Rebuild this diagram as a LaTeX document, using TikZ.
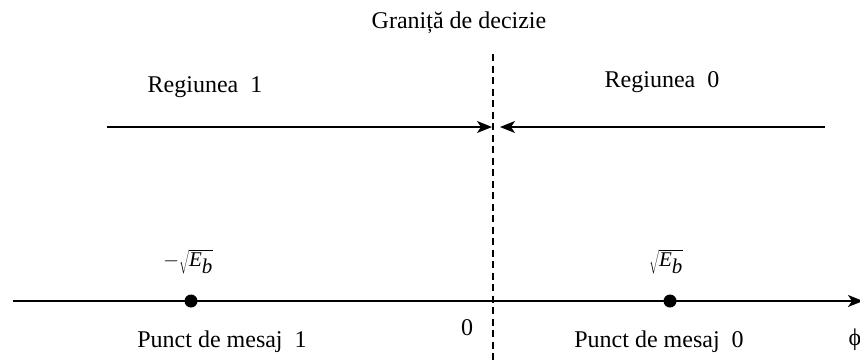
\documentclass[tikz,border=0pt]{standalone}
\usepackage{fontspec}
\setmainfont{Liberation Serif}
\usetikzlibrary{arrows.meta}
\begin{document}
\begin{tikzpicture}[x=1pt,y=-1pt,
  lbl/.style={font=\fontsize{24}{28}\selectfont, inner sep=0pt, anchor=base},
  mlbl/.style={font=\fontsize{21}{25}\selectfont, inner sep=0pt, anchor=base},
  ln/.style={line width=1.5pt, -{Stealth[length=15pt,width=12pt,inset=4pt]}},
  dotn/.style={circle, fill=black, minimum size=13pt, inner sep=0pt}]
\useasboundingbox (0,0) rectangle (860,360);
\node[lbl] (title) at (459,28) {Graniță de decizie};
\coordinate (btop) at (493,54);
\coordinate (bbot) at (493,360);
\draw[line width=1.3pt, dash pattern=on 7pt off 4.5pt] (btop) -- (bbot);
\node[lbl] (r1) at (205,92) {Regiunea\ \ 1};
\node[lbl] (r0) at (662,87) {Regiunea\ \ 0};
\coordinate (a1s) at (107,127);
\coordinate (a1e) at (492,127);
\coordinate (a0s) at (825,127);
\coordinate (a0e) at (500,127);
\draw[ln] (a1s) -- (a1e);
\draw[ln] (a0s) -- (a0e);
\coordinate (axs) at (13,301);
\coordinate (axe) at (863,301);
\draw[ln] (axs) -- (axe);
\node[dotn] (d1) at (191,301) {};
\node[dotn] (d0) at (670,301) {};
\node[mlbl] (s1) at (188,266) {$-\sqrt{\textit{E}_{\scriptscriptstyle\textit{b}}}$};
\node[mlbl] (s0) at (666,266) {$\sqrt{\textit{E}_{\scriptscriptstyle\textit{b}}}$};
\node[lbl] (p1) at (222,347) {Punct de mesaj\ \ 1};
\node[lbl] (z) at (467,335) {0};
\node[lbl] (p0) at (659,347) {Punct de mesaj\ \ 0};
\node[lbl] (phi) at (855,345) {ϕ};
\end{tikzpicture}
\end{document}
